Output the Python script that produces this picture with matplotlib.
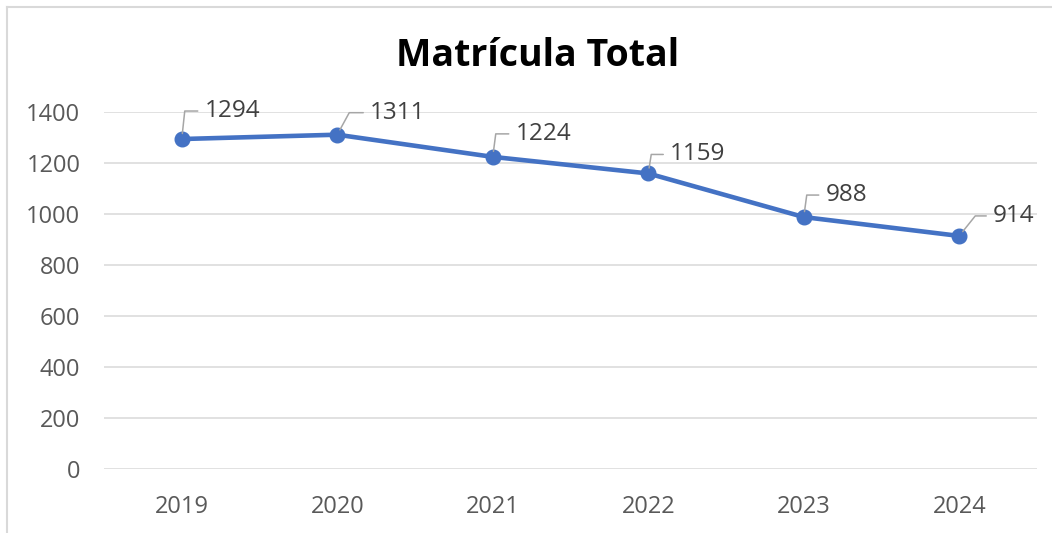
import math
import matplotlib.pyplot as plt
from matplotlib.lines import Line2D

# Data
years = ["2019", "2020", "2021", "2022", "2023", "2024"]
matricula = [1294, 1311, 1224, 1159, 988, 914]

# label layout (pixels): elbow x, label y, text x
elbow_dx = [3, 12, 3, 3, 3, 16]
label_dy = [28, 22, 23, 19, 22, 20]
text_dx = [23, 33, 23, 22, 22, 34]

plt.rcParams['font.family'] = ['Open Sans', 'DejaVu Sans']

fig = plt.figure(figsize=(10.52, 5.33), dpi=100)
ax = fig.add_axes([104 / 1052, 1 - 469 / 533, (1037 - 104) / 1052, (469 - 112) / 533])

x = list(range(len(years)))
ax.plot(x, matricula, color="#4472C4", lw=3.3, marker="o", ms=10.5, zorder=3)

ax.set_xlim(-0.5, len(years) - 0.5)
ax.set_ylim(0, 1400)
ax.set_yticks(range(0, 1401, 200))
ax.set_xticks(x)
ax.set_xticklabels(years)
ax.grid(axis="y", color="#D9D9D9", lw=1.1)
ax.set_axisbelow(True)
for s in ax.spines.values():
    s.set_visible(False)
ax.tick_params(axis="both", length=0, labelsize=17, colors="#595959")
ax.tick_params(axis="y", pad=17)
ax.tick_params(axis="x", pad=19)

p = 0.72  # px -> pt
for xi, v, ex, dy, tx in zip(x, matricula, elbow_dx, label_dy, text_dx):
    ang = math.degrees(math.atan2(dy, ex))
    ax.annotate("", xy=(xi, v), xytext=((tx - 7) * p, dy * p), textcoords="offset points",
                arrowprops=dict(arrowstyle="-", color="#A6A6A6", lw=1.1, shrinkA=0, shrinkB=4,
                                connectionstyle=f"angle,angleA=0,angleB={ang},rad=0"))
    ax.annotate(str(v), xy=(xi, v), xytext=(tx * p, dy * p), textcoords="offset points",
                ha="left", va="center", fontsize=17.5, color="#404040")

fig.text(0.511, 1 - 56 / 533, "Matrícula Total", ha="center", va="center",
         fontsize=27, fontweight="bold", color="black")

# chart border (top and left visible)
fig.add_artist(Line2D([7 / 1052, 7 / 1052], [0, 1 - 7 / 533], color="#D9D9D9", lw=1.5))
fig.add_artist(Line2D([7 / 1052, 1], [1 - 7 / 533, 1 - 7 / 533], color="#D9D9D9", lw=1.5))

fig.savefig("out.png", dpi=100)
